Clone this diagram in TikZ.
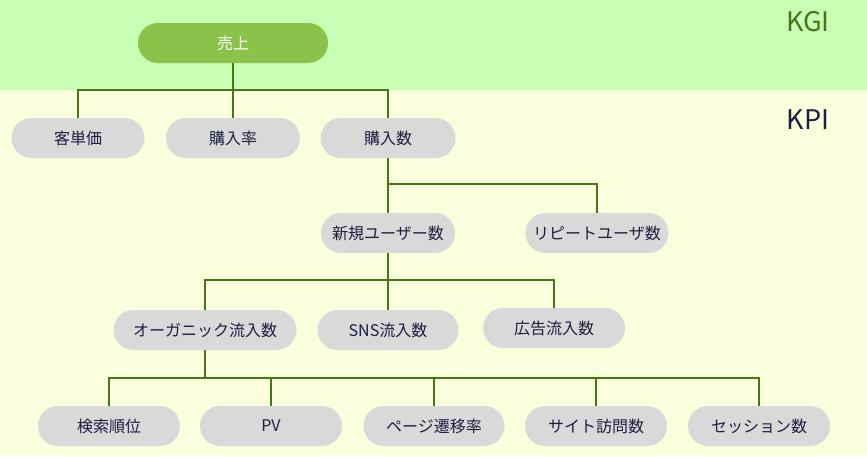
\documentclass[tikz,border=0pt]{standalone}
\usepackage{fontspec}
\setmainfont{Noto Sans CJK JP}
\usetikzlibrary{positioning}
\definecolor{kgiband}{HTML}{C7FFB5}
\definecolor{kpiband}{HTML}{FAFFDC}
\definecolor{kgifill}{HTML}{8BC34A}
\definecolor{kpifill}{HTML}{D9D9D9}
\definecolor{treeline}{HTML}{4B7515}
\definecolor{navytext}{HTML}{1C1F3F}

\begin{document}
\begin{tikzpicture}
    [
        x=1pt, y=-1pt,
        kgi_node/.style={rectangle, rounded corners=20pt, fill=kgifill, text=white, minimum height=40pt, minimum width=190pt, font=\fontsize{16}{19}\selectfont},
        kpi_node/.style={rectangle, rounded corners=20pt, fill=kpifill, text=navytext, minimum height=40pt, minimum width=134pt, font=\fontsize{16}{19}\selectfont},
        tree_line/.style={draw=treeline, line width=2pt},
        band_label/.style={font=\fontsize{27}{30}\selectfont},
    ]
        \useasboundingbox (0,0) rectangle (867,456) ;
        \fill[kgiband] (0,0) rectangle (867,90) ;
        \fill[kpiband] (0,90) rectangle (867,456) ;
        \node[band_label, text=treeline] (kgi) at (808,22) {KGI} ;
        \node[band_label, text=navytext] (kpi) at (808,120) {KPI} ;
        % top level
        \node[kgi_node] (sales) at (233,43) {売上} ;
        \node[kpi_node, minimum width=133pt] (unitprice) at (78,138) {客単価} ;
        \node[kpi_node] (buyrate) at (233,138) {購入率} ;
        \node[kpi_node, minimum width=135pt] (buycount) at (388,138) {購入数} ;
        % users
        \node[kpi_node] (newusers) at (388,233) {新規ユーザー数} ;
        \node[kpi_node, minimum width=143pt] (repeatusers) at (597,233) {リピートユーザ数} ;
        % inflow
        \node[kpi_node, minimum width=183pt] (organic) at (205,330) {オーガニック流入数} ;
        \node[kpi_node, minimum width=141pt] (sns) at (388,330) {SNS流入数} ;
        \node[kpi_node, minimum width=142pt] (ads) at (554,328) {広告流入数} ;
        % organic breakdown
        \node[kpi_node, minimum width=142pt] (rank) at (109,426) {検索順位} ;
        \node[kpi_node, minimum width=142pt] (pv) at (271,426) {PV} ;
        \node[kpi_node, minimum width=141pt] (transition) at (434,426) {ページ遷移率} ;
        \node[kpi_node, minimum width=142pt] (visits) at (596,426) {サイト訪問数} ;
        \node[kpi_node, minimum width=142pt] (sessions) at (759,426) {セッション数} ;
        \draw[tree_line] (sales.south) -- (sales.south |- 0,90) -| (unitprice.north) ;
        \draw[tree_line] (sales.south) -- (buyrate.north) ;
        \draw[tree_line] (sales.south) -- (sales.south |- 0,90) -| (buycount.north) ;
        \draw[tree_line] (buycount.south) -- (newusers.north) ;
        \draw[tree_line] (buycount.south) -- (buycount.south |- 0,184) -| (repeatusers.north) ;
        \draw[tree_line] (newusers.south) -- (newusers.south |- 0,280) -| (organic.north) ;
        \draw[tree_line] (newusers.south) -- (sns.north) ;
        \draw[tree_line] (newusers.south) -- (newusers.south |- 0,280) -| (ads.north) ;
        \draw[tree_line] (organic.south) -- (organic.south |- 0,378) -| (rank.north) ;
        \draw[tree_line] (organic.south |- 0,378) -| (pv.north) ;
        \draw[tree_line] (organic.south |- 0,378) -| (transition.north) ;
        \draw[tree_line] (organic.south |- 0,378) -| (visits.north) ;
        \draw[tree_line] (organic.south |- 0,378) -| (sessions.north) ;
    \end{tikzpicture}
\end{document}
